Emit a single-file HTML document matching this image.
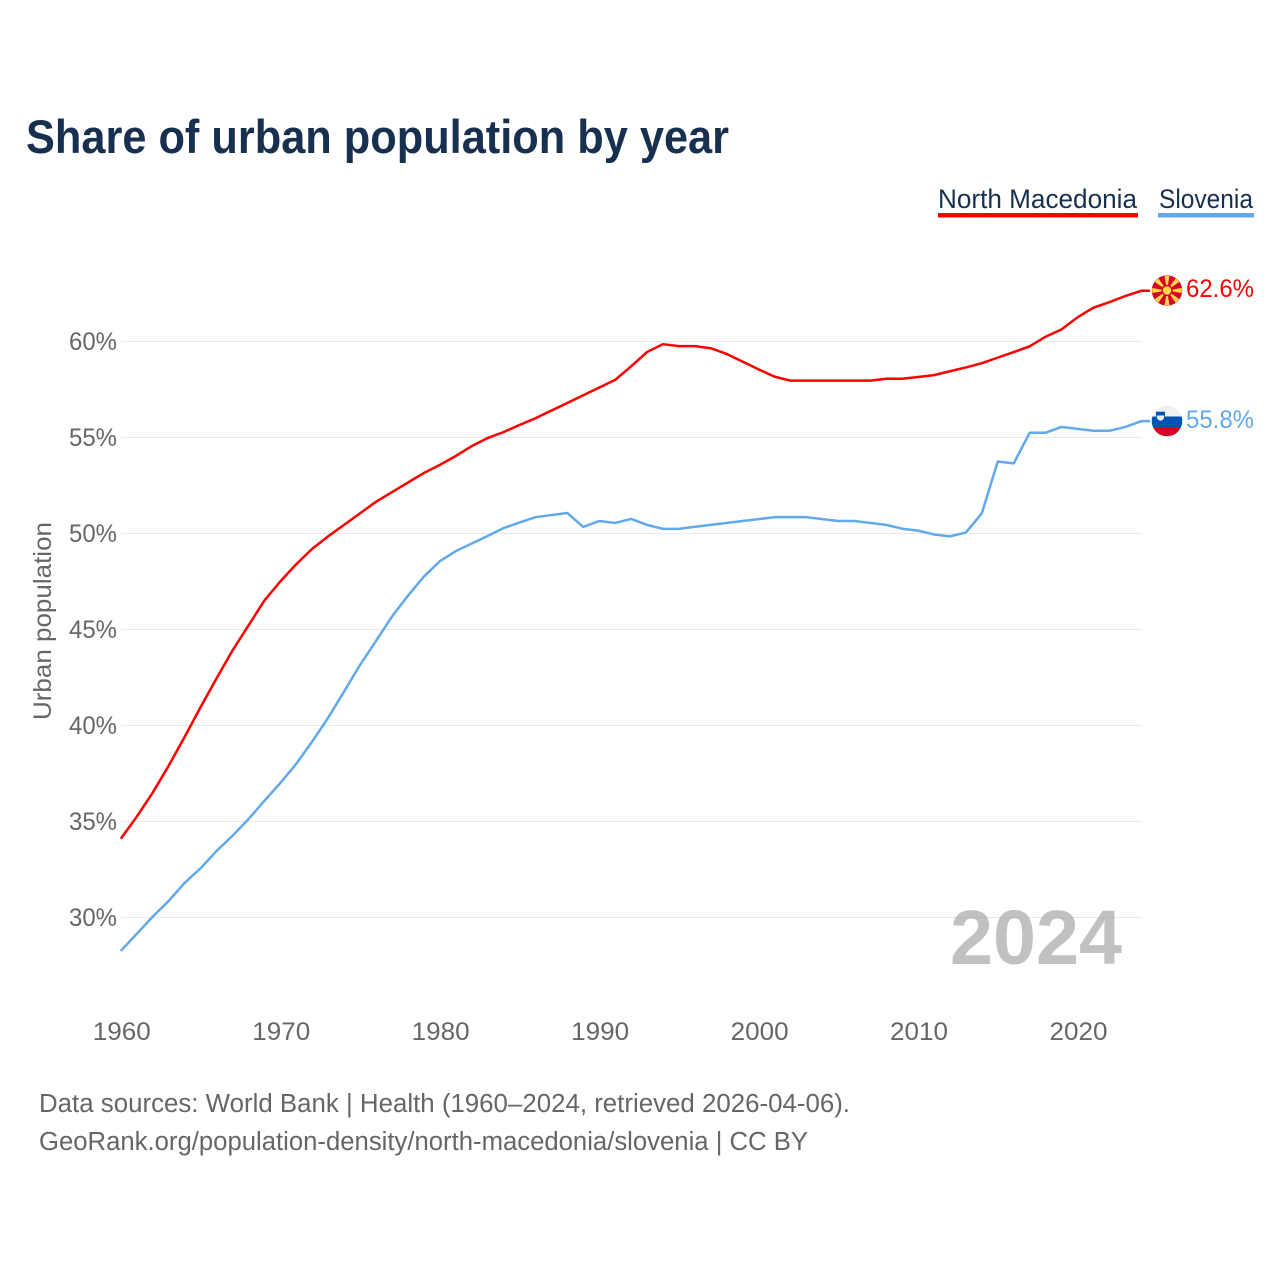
<!DOCTYPE html>
<html lang="en">
<head>
<meta charset="utf-8">
<title>Share of urban population by year</title>
<style>
html,body{margin:0;padding:0;background:#fff;width:1280px;height:1280px;overflow:hidden}
svg{display:block}
text{font-family:"Liberation Sans",sans-serif}
</style>
</head>
<body>
<svg id="chart" xmlns="http://www.w3.org/2000/svg" width="1280" height="1280" viewBox="0 0 1280 1280">
  <rect x="0" y="0" width="1280" height="1280" fill="#ffffff"/>
  <text x="26" y="153" font-size="47" font-weight="700" fill="#17304f" textLength="703" lengthAdjust="spacingAndGlyphs">Share of urban population by year</text>

  <g>
    <g>
      <text x="938" y="208" font-size="27" fill="#17304f" textLength="199" lengthAdjust="spacingAndGlyphs">North Macedonia</text>
      <rect x="938" y="213" width="200" height="4.5" fill="#ff0000"/>
    </g>
    <g>
      <text x="1159" y="208" font-size="27" fill="#17304f" textLength="94" lengthAdjust="spacingAndGlyphs">Slovenia</text>
      <rect x="1158" y="213" width="96" height="4.5" fill="#62a8ec"/>
    </g>
  </g>

  <g id="grid"></g>
  <g id="yticks"></g>
  <g id="xticks"></g>
  <text transform="translate(51 621) rotate(-90)" text-anchor="middle" font-size="25" fill="#666666" textLength="198" lengthAdjust="spacingAndGlyphs">Urban population</text>

  <text x="950" y="964" font-size="77" font-weight="700" fill="#a6a6a6" fill-opacity="0.7" textLength="172" lengthAdjust="spacingAndGlyphs">2024</text>

  <g id="series"></g>

  <g id="flag-mk">
    <circle cx="1167" cy="290.5" r="15.2" fill="#d80027"/>
  </g>
  <g>
    <clipPath id="si-clip"><circle cx="1167" cy="421" r="15.3"/></clipPath>
    <g clip-path="url(#si-clip)">
      <rect x="1151" y="405" width="32" height="12" fill="#f0f0f0"/>
      <rect x="1151" y="416.5" width="32" height="10.5" fill="#0052b4"/>
      <rect x="1151" y="427" width="32" height="11" fill="#d80027"/>
    </g>
    <rect x="1156" y="411.700" width="9" height="5" fill="#0052b4"/>
    <path d="M1156.800 415.500h7.400v1c0 2.500-1.700 3.800-3.700 4.300c-2-.5-3.700-1.800-3.700-4.300z" fill="#f0f0f0"/>
  </g>

  <text id="label-mk" x="1186" y="297" font-size="25" fill="#ff0000" textLength="68" lengthAdjust="spacingAndGlyphs">62.6%</text>
  <text id="label-si" x="1186" y="428" font-size="25" fill="#62a8ec" textLength="68" lengthAdjust="spacingAndGlyphs">55.8%</text>

  <text x="39" y="1112" font-size="25.500" fill="#666666" textLength="811" lengthAdjust="spacingAndGlyphs">Data sources: World Bank | Health (1960–2024, retrieved 2026-04-06).</text>
  <text x="39" y="1150" font-size="25.500" fill="#666666" textLength="769" lengthAdjust="spacingAndGlyphs">GeoRank.org/population-density/north-macedonia/slovenia | CC BY</text>
</svg>
<script>
const firstYear = 1960;
const yTickValues = [30, 35, 40, 45, 50, 55, 60];
const xTickYears = [1960, 1970, 1980, 1990, 2000, 2010, 2020];
const northMacedonia = [34.1,35.25,36.5,37.9,39.4,40.95,42.45,43.9,45.2,46.5,47.5,48.4,49.2,49.85,50.45,51.05,51.65,52.15,52.65,53.15,53.57,54.03,54.55,54.97,55.28,55.65,56.0,56.4,56.8,57.2,57.6,58.0,58.7,59.45,59.86,59.76,59.76,59.65,59.35,58.95,58.55,58.17,57.96,57.96,57.96,57.96,57.96,57.96,58.06,58.06,58.15,58.25,58.45,58.65,58.87,59.16,59.45,59.75,60.25,60.63,61.26,61.76,62.05,62.37,62.64];
const slovenia = [28.26,29.15,30.04,30.86,31.8,32.56,33.46,34.25,35.12,36.07,37.0,38.0,39.16,40.4,41.76,43.15,44.4,45.67,46.75,47.75,48.55,49.08,49.47,49.87,50.28,50.57,50.85,50.96,51.07,50.34,50.65,50.55,50.76,50.45,50.24,50.24,50.35,50.45,50.55,50.65,50.75,50.85,50.85,50.85,50.75,50.65,50.65,50.55,50.45,50.25,50.15,49.95,49.85,50.05,51.05,53.75,53.65,55.25,55.25,55.55,55.45,55.35,55.35,55.55,55.85];

const SVG_NS = 'http://www.w3.org/2000/svg';
const xScale = function (year) { return 120.8 + (year - 1960) * 15.945; };
const yScale = function (value) { return 917.5 - (value - 30) * 19.2; };
const make = function (tag, parent) {
  const node = document.createElementNS(SVG_NS, tag);
  parent.appendChild(node);
  return node;
};

const gridGroup = document.getElementById('grid');
const yTickGroup = document.getElementById('yticks');
yTickValues.forEach(function (value) {
  const line = make('line', gridGroup);
  
  
  line.setAttribute('x1', 121);
  line.setAttribute('x2', 1142);
  line.setAttribute('y1', yScale(value));
  line.setAttribute('y2', yScale(value));
  line.setAttribute('stroke', '#e8e8e8');
  line.setAttribute('stroke-width', 1);
  const label = make('text', yTickGroup);
  
  
  label.setAttribute('x', 69);
  label.setAttribute('y', yScale(value) + 8.5);
  label.setAttribute('font-size', 25);
  label.setAttribute('fill', '#666666');
  label.setAttribute('textLength', 48);
  label.setAttribute('lengthAdjust', 'spacingAndGlyphs');
  label.textContent = value + '%';
});

const xTickGroup = document.getElementById('xticks');
xTickYears.forEach(function (year) {
  const label = make('text', xTickGroup);
  
  
  label.setAttribute('x', xScale(year) - 28);
  label.setAttribute('y', 1040);
  label.setAttribute('font-size', 25);
  label.setAttribute('fill', '#666666');
  label.setAttribute('textLength', 58);
  label.setAttribute('lengthAdjust', 'spacingAndGlyphs');
  label.textContent = String(year);
});

const seriesGroup = document.getElementById('series');
const linePoints = function (values) {
  return values.map(function (value, index) {
    return xScale(firstYear + index).toFixed(2) + ',' + yScale(value).toFixed(2);
  });
};

const redLine = make('polyline', seriesGroup);


const redPoints = linePoints(northMacedonia);
const redEnd = yScale(northMacedonia[northMacedonia.length - 1]).toFixed(2);
redLine.setAttribute('points', redPoints.join(' ') + ' 1150,' + redEnd);
redLine.setAttribute('fill', 'none');
redLine.setAttribute('stroke', '#ff0000');
redLine.setAttribute('stroke-width', 2.5);
redLine.setAttribute('stroke-linejoin', 'round');

const blueLine = make('polyline', seriesGroup);


const bluePoints = linePoints(slovenia);
const blueEnd = yScale(slovenia[slovenia.length - 1]).toFixed(2);
blueLine.setAttribute('points', bluePoints.join(' ') + ' 1150,' + blueEnd);
blueLine.setAttribute('fill', 'none');
blueLine.setAttribute('stroke', '#62a8ec');
blueLine.setAttribute('stroke-width', 2.5);
blueLine.setAttribute('stroke-linejoin', 'round');

const flagGroup = document.getElementById('flag-mk');
for (let i = 0; i < 8; i++) {
  const angle = i * Math.PI / 4;
  const half = 0.17;
  const ray = make('polygon', flagGroup);
  
  
  const ax = 1167 + 15 * Math.cos(angle - half);
  const ay = 290.5 + 15 * Math.sin(angle - half);
  const bx = 1167 + 15 * Math.cos(angle + half);
  const by = 290.5 + 15 * Math.sin(angle + half);
  ray.setAttribute('points', '1167,290.5 ' + ax + ',' + ay + ' ' + bx + ',' + by);
  ray.setAttribute('fill', '#ffda44');
}
const sunRing = make('circle', flagGroup);


sunRing.setAttribute('cx', 1167);
sunRing.setAttribute('cy', 290.5);
sunRing.setAttribute('r', 5.6);
sunRing.setAttribute('fill', '#d80027');
const sun = make('circle', flagGroup);


sun.setAttribute('cx', 1167);
sun.setAttribute('cy', 290.5);
sun.setAttribute('r', 4.3);
sun.setAttribute('fill', '#ffda44');
</script>
</body>
</html>
